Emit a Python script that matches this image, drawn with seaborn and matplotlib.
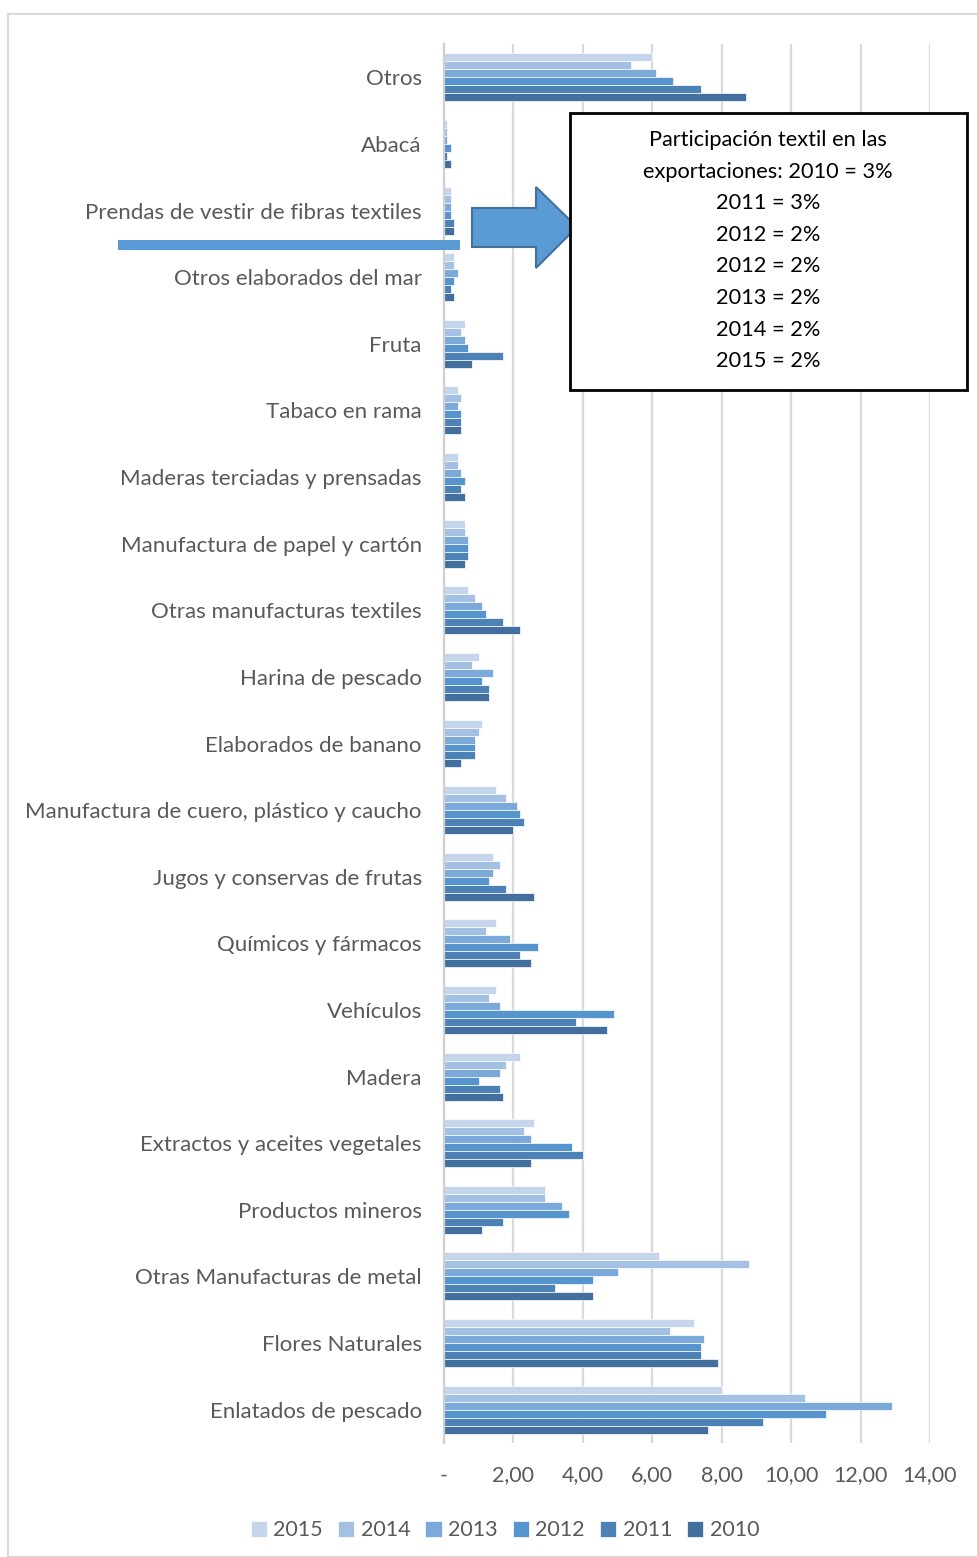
import pandas as pd
import numpy as np
import matplotlib.pyplot as plt
import seaborn as sns
from matplotlib.patches import Rectangle, Polygon

# data
categories = ["Otros", "Abacá", "Prendas de vestir de fibras textiles", "Otros elaborados del mar",
              "Fruta", "Tabaco en rama", "Maderas terciadas y prensadas",
              "Manufactura de papel y cartón", "Otras manufacturas textiles", "Harina de pescado",
              "Elaborados de banano", "Manufactura de cuero, plástico y caucho",
              "Jugos y conservas de frutas", "Químicos y fármacos", "Vehículos", "Madera",
              "Extractos y aceites vegetales", "Productos mineros", "Otras Manufacturas de metal",
              "Flores Naturales", "Enlatados de pescado"]
years = ["2015", "2014", "2013", "2012", "2011", "2010"]

v2015 = [6.0, 0.1, 0.2, 0.3, 0.6, 0.4, 0.4, 0.6, 0.7, 1.0, 1.1, 1.5, 1.4, 1.5, 1.5, 2.2, 2.6, 2.9, 6.2, 7.2, 8.0]
v2014 = [5.4, 0.1, 0.2, 0.3, 0.5, 0.5, 0.4, 0.6, 0.9, 0.8, 1.0, 1.8, 1.6, 1.2, 1.3, 1.8, 2.3, 2.9, 8.8, 6.5, 10.4]
v2013 = [6.1, 0.1, 0.2, 0.4, 0.6, 0.4, 0.5, 0.7, 1.1, 1.4, 0.9, 2.1, 1.4, 1.9, 1.6, 1.6, 2.5, 3.4, 5.0, 7.5, 12.9]
v2012 = [6.6, 0.2, 0.2, 0.3, 0.7, 0.5, 0.6, 0.7, 1.2, 1.1, 0.9, 2.2, 1.3, 2.7, 4.9, 1.0, 3.7, 3.6, 4.3, 7.4, 11.0]
v2011 = [7.4, 0.1, 0.3, 0.2, 1.7, 0.5, 0.5, 0.7, 1.7, 1.3, 0.9, 2.3, 1.8, 2.2, 3.8, 1.6, 4.0, 1.7, 3.2, 7.4, 9.2]
v2010 = [8.7, 0.2, 0.3, 0.3, 0.8, 0.5, 0.6, 0.6, 2.2, 1.3, 0.5, 2.0, 2.6, 2.5, 4.7, 1.7, 2.5, 1.1, 4.3, 7.9, 7.6]

box_lines = ["Participación textil en las", "exportaciones: 2010 = 3%", "2011 = 3%", "2012 = 2%",
             "2012 = 2%", "2013 = 2%", "2014 = 2%", "2015 = 2%"]

colors = ["#C5D5EB", "#A4C0E3", "#7BA9D9", "#5694CD", "#4C82B6", "#426F9D"]

series = [v2015, v2014, v2013, v2012, v2011, v2010]
df = pd.DataFrame({
    "categoria": categories * len(years),
    "anio": np.repeat(years, len(categories)),
    "valor": np.concatenate(series),
})

sns.set_style("white")
plt.rcParams["font.family"] = ["Lato", "DejaVu Sans"]

W, H = 978, 1557
fig = plt.figure(figsize=(W / 100, H / 100), dpi=100)
ax = fig.add_axes([444 / W, 1 - 1443 / H, (930 - 444) / W, (1443 - 44) / H])

sns.barplot(data=df, y="categoria", x="valor", hue="anio", order=categories, hue_order=years,
            palette=colors, orient="h", width=0.72, edgecolor="white", linewidth=0.5,
            saturation=1, ax=ax)

ax.set_xlim(0, 14)
ax.set_ylim(len(categories) - 0.5, -0.5)
ax.set_xticks(np.arange(0, 15, 2))
ax.set_xticklabels(["-"] + [f"{x:.2f}".replace(".", ",") for x in np.arange(2, 15, 2)])
ax.xaxis.grid(True, color="#D9D9D9", linewidth=1.6)
ax.set_axisbelow(True)
for s in ["top", "right", "bottom"]:
    ax.spines[s].set_visible(False)
ax.spines["left"].set_color("#D0D0D0")
ax.spines["left"].set_linewidth(1.6)
ax.tick_params(axis="x", length=0, pad=16, labelsize=15.5, labelcolor="#595959")
ax.tick_params(axis="y", length=0, pad=16, labelsize=16, labelcolor="#595959")
ax.set_xlabel("")
ax.set_ylabel("")

leg = ax.legend(loc="upper center", bbox_to_anchor=(505 / W, 1 - 1501 / H), bbox_transform=fig.transFigure,
                ncol=6, frameon=False, fontsize=15.5, handlelength=0.75, handleheight=0.75,
                handletextpad=0.3, columnspacing=0.7)
for t in leg.get_texts():
    t.set_color("#595959")

# outer chart frame
fig.patches.append(Rectangle((8 / W, 0), 1, 1 - 14 / H, transform=fig.transFigure,
                             fill=False, edgecolor="#D9D9D9", linewidth=1.5))

# blue line marking the textile category
fig.patches.append(Rectangle((118 / W, 1 - 250 / H), (460 - 118) / W, 10 / H, transform=fig.transFigure,
                             facecolor="#5B9BD5", edgecolor="none"))

# block arrow
arrow_px = [(472, 208), (536, 208), (536, 187), (577, 227), (536, 268), (536, 247), (472, 247)]
fig.patches.append(Polygon([(x / W, 1 - y / H) for x, y in arrow_px], closed=True, transform=fig.transFigure,
                           facecolor="#5B9BD5", edgecolor="#41719C", linewidth=1.5))

# text box
fig.patches.append(Rectangle((570 / W, 1 - 390 / H), (967 - 570) / W, (390 - 113) / H, transform=fig.transFigure,
                             facecolor="white", edgecolor="black", linewidth=2))
for i, line in enumerate(box_lines):
    fig.text(768 / W, 1 - (140 + i * 31.6) / H, line, ha="center", va="center", fontsize=15.7, color="black")

fig.savefig("out.png", dpi=100)
